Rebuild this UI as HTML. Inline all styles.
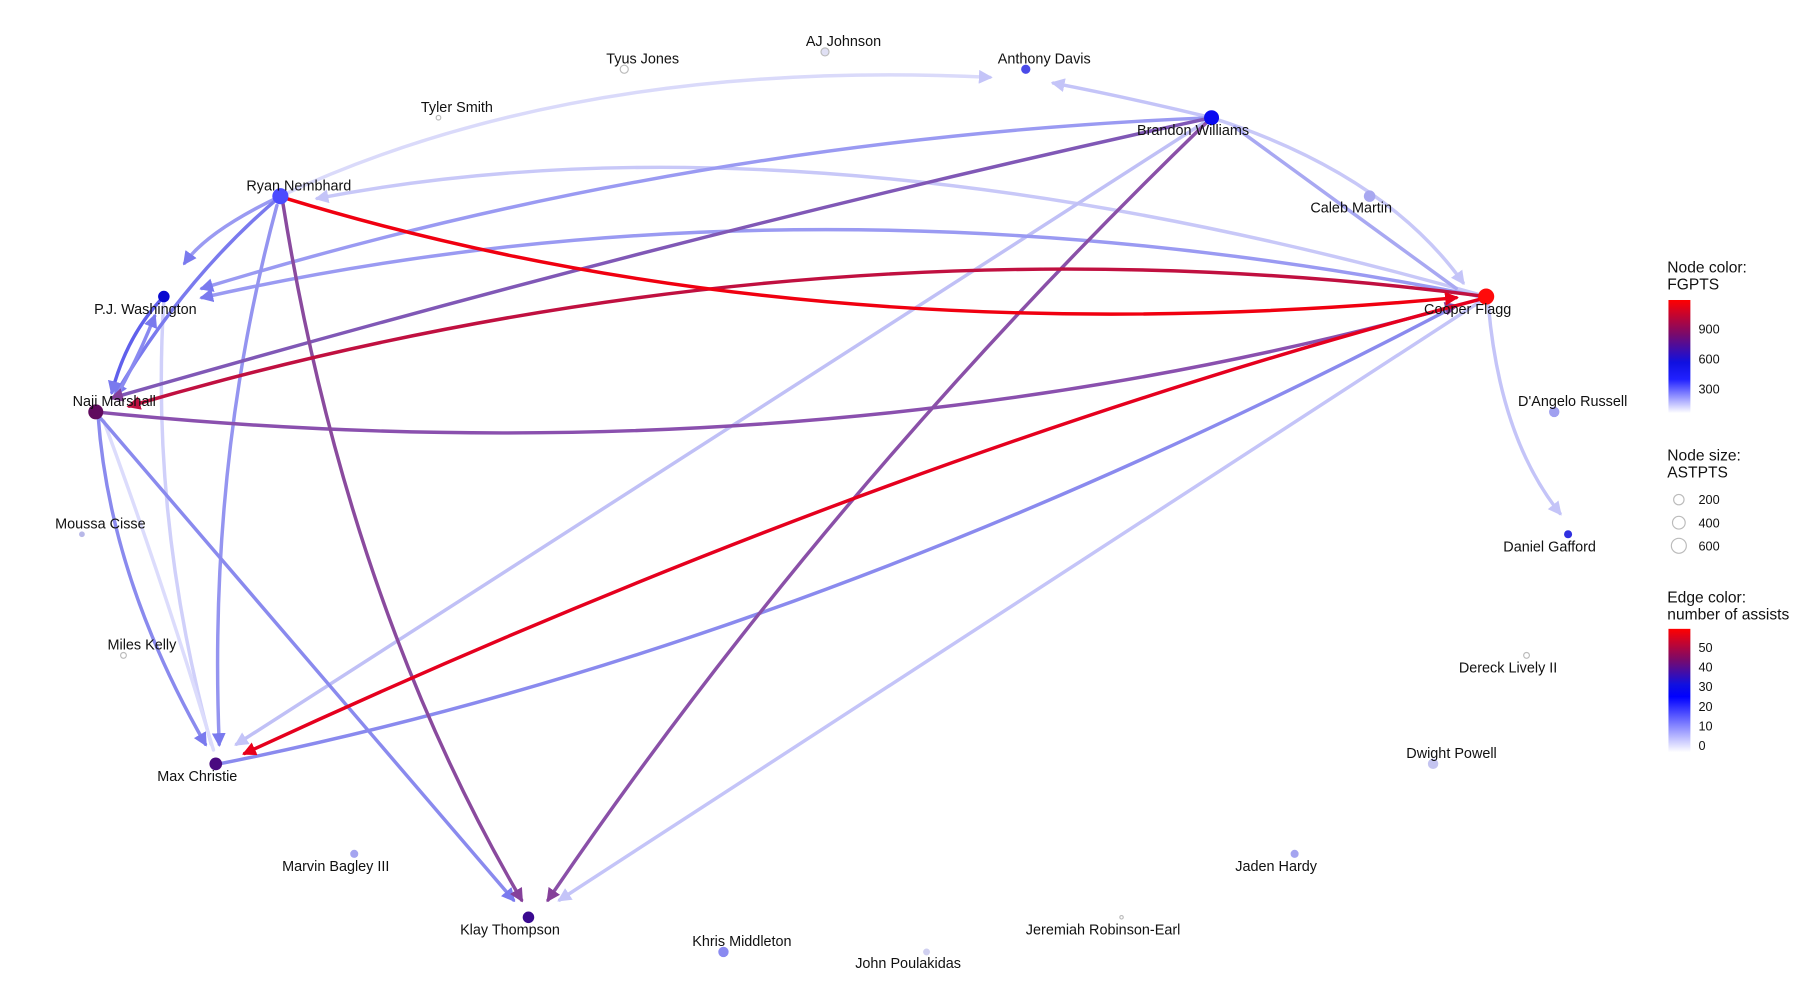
<!DOCTYPE html>
<html><head><meta charset="utf-8"><style>html,body{margin:0;padding:0;background:#fff;width:1800px;height:1000px;overflow:hidden}svg{display:block}text{font-family:"Liberation Sans",Arial,sans-serif;fill:#111}</style></head><body>
<svg width="1800" height="1000" viewBox="0 0 1560 866.67" xmlns="http://www.w3.org/2000/svg">
<defs>
<marker id="mr" viewBox="0 0 10 10" refX="8" refY="5" markerWidth="4" markerHeight="4" orient="auto"><path d="M0,0L10,5L0,10z" fill="#e8001a"/></marker>
<marker id="mc" viewBox="0 0 10 10" refX="8" refY="5" markerWidth="4" markerHeight="4" orient="auto"><path d="M0,0L10,5L0,10z" fill="#c01040"/></marker>
<marker id="mp" viewBox="0 0 10 10" refX="8" refY="5" markerWidth="4" markerHeight="4" orient="auto"><path d="M0,0L10,5L0,10z" fill="#85409a"/></marker>
<marker id="mb" viewBox="0 0 10 10" refX="8" refY="5" markerWidth="4" markerHeight="4" orient="auto"><path d="M0,0L10,5L0,10z" fill="#7a7aee"/></marker>
<marker id="ml" viewBox="0 0 10 10" refX="8" refY="5" markerWidth="4" markerHeight="4" orient="auto"><path d="M0,0L10,5L0,10z" fill="#c4c4f8"/></marker>
<linearGradient id="g1" x1="0" y1="0" x2="0" y2="1"><stop offset="0" stop-color="#ff0000"/><stop offset="0.3" stop-color="#7a0a6a"/><stop offset="0.55" stop-color="#1010e0"/><stop offset="0.7" stop-color="#2020ff"/><stop offset="1" stop-color="#ffffff"/></linearGradient>
<linearGradient id="g2" x1="0" y1="0" x2="0" y2="1"><stop offset="0" stop-color="#ff0000"/><stop offset="0.25" stop-color="#7a0a6a"/><stop offset="0.45" stop-color="#1010e0"/><stop offset="0.55" stop-color="#0000ff"/><stop offset="1" stop-color="#ffffff"/></linearGradient>
</defs>
<g fill="none" stroke-linecap="round">
<path d="M1288,257 Q700,90 275,172" stroke="#c8c8f8" stroke-width="3" marker-end="url(#ml)"/>
<path d="M243,170 Q500,50 858,67" stroke="#dadafa" stroke-width="3" marker-end="url(#ml)"/>
<path d="M1050,102 Q980,85 913,72" stroke="#c4c4f8" stroke-width="3" marker-end="url(#ml)"/>
<path d="M1050,102 L205,645" stroke="#c0c0f6" stroke-width="3" marker-end="url(#ml)"/>
<path d="M1288,258 L485,780" stroke="#c4c4f8" stroke-width="3" marker-end="url(#ml)"/>
<path d="M1050,102 Q1200,150 1268,245" stroke="#c8c8f8" stroke-width="3" marker-end="url(#ml)"/>
<path d="M1070,110 L1262,250" stroke="#a8a8f2" stroke-width="3"/>
<path d="M1290,265 Q1300,380 1352,445" stroke="#c4c4f8" stroke-width="3" marker-end="url(#ml)"/>
<path d="M142,260 Q130,450 183,645" stroke="#d0d0fa" stroke-width="3"/>
<path d="M90,365 Q140,500 185,650" stroke="#dcdcfc" stroke-width="3"/>
<path d="M1288,258 Q700,140 175,258" stroke="#9a9af2" stroke-width="3" marker-end="url(#mb)"/>
<path d="M1050,102 Q600,120 175,250" stroke="#9a9af2" stroke-width="3" marker-end="url(#mb)"/>
<path d="M243,170 Q180,200 160,228" stroke="#9a9af2" stroke-width="3" marker-end="url(#mb)"/>
<path d="M243,170 Q160,240 100,342" stroke="#7a7aee" stroke-width="3" marker-end="url(#mb)"/>
<path d="M142,257 Q110,290 97,340" stroke="#6060ec" stroke-width="3" marker-end="url(#mb)"/>
<path d="M100,345 Q120,310 134,274" stroke="#8a8af0" stroke-width="3" marker-end="url(#mb)"/>
<path d="M240,178 Q180,400 190,645" stroke="#9494f0" stroke-width="3" marker-end="url(#mb)"/>
<path d="M85,360 Q95,500 178,645" stroke="#8a8aee" stroke-width="3" marker-end="url(#mb)"/>
<path d="M85,360 L445,780" stroke="#8a8aee" stroke-width="3" marker-end="url(#mb)"/>
<path d="M190,662 Q700,560 1262,265" stroke="#8a8aee" stroke-width="3"/>
<path d="M83,357 Q700,420 1262,265" stroke="#8a50ae" stroke-width="3" marker-end="url(#mp)"/>
<path d="M1050,102 Q600,200 97,345" stroke="#8058b6" stroke-width="3" marker-end="url(#mp)"/>
<path d="M1050,102 Q720,420 475,780" stroke="#8a50a8" stroke-width="3" marker-end="url(#mp)"/>
<path d="M245,175 Q300,520 452,780" stroke="#8a4a9e" stroke-width="3" marker-end="url(#mp)"/>
<path d="M1288,257 Q700,180 112,352" stroke="#c01040" stroke-width="3" marker-end="url(#mc)"/>
<path d="M1288,258 Q780,390 212,653" stroke="#e5001e" stroke-width="3" marker-end="url(#mr)"/>
<path d="M248,172 Q700,310 1262,258" stroke="#f00010" stroke-width="3" marker-end="url(#mr)"/>
</g>
<g>
<circle cx="541" cy="60" r="3.5" fill="#fff" stroke="#bbb"/>
<circle cx="715" cy="45" r="3.5" fill="#e0e0f4" stroke="#bbb"/>
<circle cx="889" cy="60" r="4" fill="#4a4ae8"/>
<circle cx="380" cy="102" r="2" fill="#fff" stroke="#bbb"/>
<circle cx="1050" cy="102" r="6.5" fill="#0a0af0"/>
<circle cx="243" cy="170" r="7" fill="#4b4bff"/>
<circle cx="1187" cy="170" r="5" fill="#a8a8f0"/>
<circle cx="142" cy="257" r="5" fill="#0a0ad0"/>
<circle cx="1288" cy="257" r="7" fill="#ff0a0a"/>
<circle cx="83" cy="357" r="6.5" fill="#600a5e"/>
<circle cx="1347" cy="357" r="4.5" fill="#a0a0f0"/>
<circle cx="71" cy="463" r="2.5" fill="#b8b8e8"/>
<circle cx="1359" cy="463" r="3.5" fill="#3030e0"/>
<circle cx="107" cy="568" r="2.5" fill="#fff" stroke="#bbb"/>
<circle cx="1323" cy="568" r="2.5" fill="#fff" stroke="#bbb"/>
<circle cx="187" cy="662" r="5.5" fill="#4a0a80"/>
<circle cx="1242" cy="662" r="4.5" fill="#c4c4f0"/>
<circle cx="307" cy="740" r="3.5" fill="#a4a4f0"/>
<circle cx="1122" cy="740" r="3.5" fill="#a4a4f0"/>
<circle cx="458" cy="795" r="5" fill="#3a0a90"/>
<circle cx="972" cy="795" r="1.5" fill="#fff" stroke="#bbb"/>
<circle cx="627" cy="825" r="4.5" fill="#8a8af0"/>
<circle cx="803" cy="825" r="3" fill="#d0d0f0"/>
</g>
<g font-size="12.5">
<text x="557" y="55" text-anchor="middle">Tyus Jones</text>
<text x="731" y="40" text-anchor="middle">AJ Johnson</text>
<text x="905" y="55" text-anchor="middle">Anthony Davis</text>
<text x="396" y="97" text-anchor="middle">Tyler Smith</text>
<text x="1034" y="117" text-anchor="middle">Brandon Williams</text>
<text x="259" y="165" text-anchor="middle">Ryan Nembhard</text>
<text x="1171" y="184" text-anchor="middle">Caleb Martin</text>
<text x="126" y="272" text-anchor="middle">P.J. Washington</text>
<text x="1272" y="272" text-anchor="middle">Cooper Flagg</text>
<text x="99" y="352" text-anchor="middle">Naji Marshall</text>
<text x="1363" y="352" text-anchor="middle">D'Angelo Russell</text>
<text x="87" y="458" text-anchor="middle">Moussa Cisse</text>
<text x="1343" y="478" text-anchor="middle">Daniel Gafford</text>
<text x="123" y="563" text-anchor="middle">Miles Kelly</text>
<text x="1307" y="583" text-anchor="middle">Dereck Lively II</text>
<text x="171" y="677" text-anchor="middle">Max Christie</text>
<text x="1258" y="657" text-anchor="middle">Dwight Powell</text>
<text x="291" y="755" text-anchor="middle">Marvin Bagley III</text>
<text x="1106" y="755" text-anchor="middle">Jaden Hardy</text>
<text x="442" y="810" text-anchor="middle">Klay Thompson</text>
<text x="956" y="810" text-anchor="middle">Jeremiah Robinson-Earl</text>
<text x="643" y="820" text-anchor="middle">Khris Middleton</text>
<text x="787" y="839" text-anchor="middle">John Poulakidas</text>
</g>
<g font-size="13.5">
<text x="1445" y="236">Node color:</text>
<text x="1445" y="251">FGPTS</text>
<rect x="1446" y="260" width="19" height="98" fill="url(#g1)"/>
<g font-size="11"><text x="1472" y="289">900</text><text x="1472" y="315">600</text><text x="1472" y="341">300</text></g>
<text x="1445" y="399">Node size:</text>
<text x="1445" y="414">ASTPTS</text>
<circle cx="1455" cy="433" r="4.5" fill="#fff" stroke="#bbb"/>
<circle cx="1455" cy="453" r="5.5" fill="#fff" stroke="#bbb"/>
<circle cx="1455" cy="473" r="6.5" fill="#fff" stroke="#bbb"/>
<g font-size="11"><text x="1472" y="437">200</text><text x="1472" y="457">400</text><text x="1472" y="477">600</text></g>
<text x="1445" y="522">Edge color:</text>
<text x="1445" y="537">number of assists</text>
<rect x="1446" y="545" width="19" height="107" fill="url(#g2)"/>
<g font-size="11"><text x="1472" y="565">50</text><text x="1472" y="582">40</text><text x="1472" y="599">30</text><text x="1472" y="616">20</text><text x="1472" y="633">10</text><text x="1472" y="650">0</text></g>
</g>
</svg>
</body></html>
